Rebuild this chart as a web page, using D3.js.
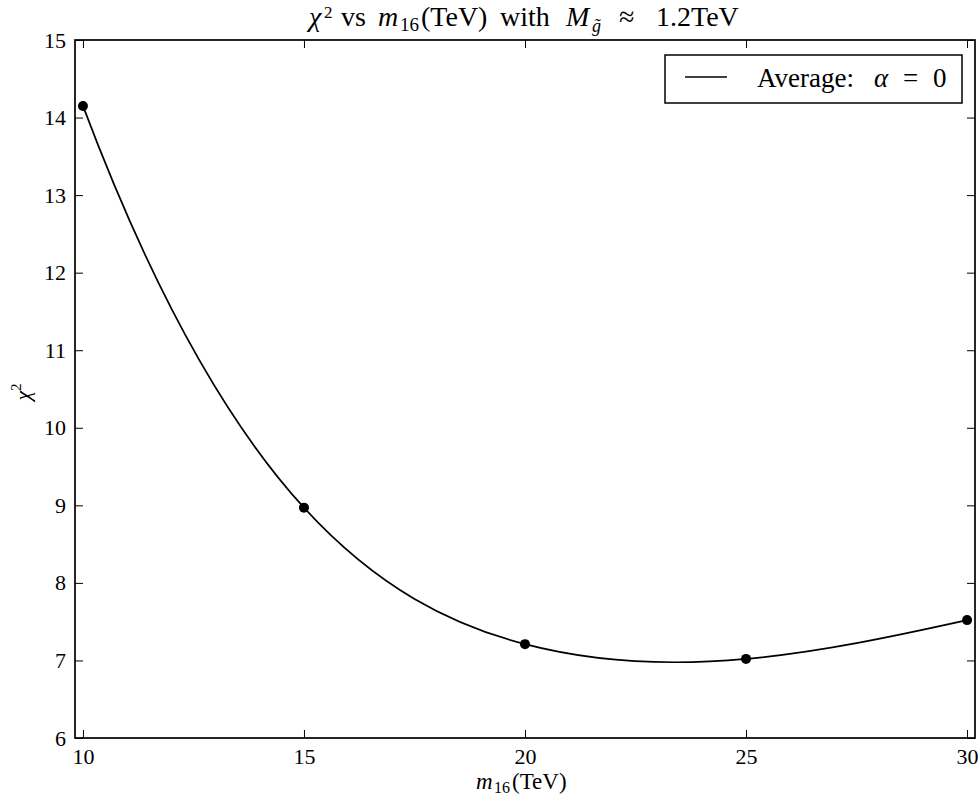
<!DOCTYPE html>
<html><head><meta charset="utf-8">
<script src="https://cdn.jsdelivr.net/npm/d3@7"></script>
<style>body{margin:0;background:#fff}svg{display:block}text{font-family:"Liberation Serif","DejaVu Serif",serif;fill:#000}</style>
</head><body>
<svg id="c" width="979" height="801"></svg>
<script>
const m16 = [10, 15, 20, 25, 30];
const chi2 = [14.15, 8.97, 7.21, 7.02, 7.52];
const xTicks = [10, 15, 20, 25, 30];
const yTicks = [6, 7, 8, 9, 10, 11, 12, 13, 14, 15];
const legendLabel = "Average:";

// not-a-knot cubic spline as a d3 curve factory (like curveNatural, different end conditions)
function NotAKnot(context){ this._context = context; }
NotAKnot.prototype = {
  areaStart(){ this._line = 0; }, areaEnd(){ this._line = NaN; },
  lineStart(){ this._x = []; this._y = []; },
  point(x, y){ this._x.push(+x); this._y.push(+y); },
  lineEnd(){
    const X = this._x, Y = this._y, n = X.length, c = this._context;
    if (n < 4) { c.moveTo(X[0], Y[0]); for (let i=1;i<n;i++) c.lineTo(X[i],Y[i]); return; }
    const h = []; for (let i=0;i<n-1;i++) h.push(X[i+1]-X[i]);
    const A = Array.from({length:n},()=>new Array(n).fill(0)), b = new Array(n).fill(0);
    A[0][0] = h[1]; A[0][1] = -(h[0]+h[1]); A[0][2] = h[0];
    for (let i=1;i<n-1;i++){
      A[i][i-1] = h[i-1]; A[i][i] = 2*(h[i-1]+h[i]); A[i][i+1] = h[i];
      b[i] = 6*((Y[i+1]-Y[i])/h[i] - (Y[i]-Y[i-1])/h[i-1]);
    }
    A[n-1][n-3] = h[n-2]; A[n-1][n-2] = -(h[n-3]+h[n-2]); A[n-1][n-1] = h[n-3];
    for (let k=0;k<n;k++){
      let p=k; for (let i=k+1;i<n;i++) if (Math.abs(A[i][k])>Math.abs(A[p][k])) p=i;
      [A[k],A[p]]=[A[p],A[k]]; [b[k],b[p]]=[b[p],b[k]];
      for (let i=k+1;i<n;i++){ const f=A[i][k]/A[k][k]; for (let j=k;j<n;j++) A[i][j]-=f*A[k][j]; b[i]-=f*b[k]; }
    }
    const M = new Array(n).fill(0);
    for (let i=n-1;i>=0;i--){ let s=b[i]; for (let j=i+1;j<n;j++) s-=A[i][j]*M[j]; M[i]=s/A[i][i]; }
    c.moveTo(X[0], Y[0]);
    for (let i=0;i<n-1;i++){
      const hi=h[i], d=(Y[i+1]-Y[i])/hi;
      const s0 = d - hi*(2*M[i]+M[i+1])/6, s1 = d + hi*(M[i]+2*M[i+1])/6;
      c.bezierCurveTo(X[i]+hi/3, Y[i]+s0*hi/3, X[i+1]-hi/3, Y[i+1]-s1*hi/3, X[i+1], Y[i+1]);
    }
  }
};
const curveNotAKnot = ctx => new NotAKnot(ctx);

const svg = d3.select("#c");
const L = 75, R = 975, T = 40, B = 738;
const x = d3.scaleLinear().domain([9.82, 30.18]).range([L, R]);
const y = d3.scaleLinear().domain([6, 15]).range([B, T]);

const g = svg.append("g");
g.append("g").attr("transform",`translate(0,${B})`).call(d3.axisBottom(x).tickValues(xTicks).tickSizeInner(-8).tickSizeOuter(0).tickPadding(10).tickFormat(d3.format("d")));
g.append("g").attr("transform",`translate(0,${T})`).call(d3.axisTop(x).tickValues(xTicks).tickSizeInner(-8).tickSizeOuter(0).tickFormat(""));
g.append("g").attr("transform",`translate(${L},0)`).call(d3.axisLeft(y).tickValues(yTicks).tickSizeInner(-8).tickSizeOuter(0).tickPadding(9).tickFormat(d3.format("d")));
g.append("g").attr("transform",`translate(${R},0)`).call(d3.axisRight(y).tickValues(yTicks).tickSizeInner(-8).tickSizeOuter(0).tickFormat(""));
g.selectAll(".domain").remove();
g.selectAll(".tick line").attr("stroke","#000").attr("stroke-width",1);
g.selectAll(".tick text").attr("font-size",22).attr("font-family","Liberation Serif, serif").attr("fill","#000");

const line = d3.line().x((d,i)=>x(m16[i])).y(d=>y(d)).curve(curveNotAKnot);
svg.append("path").datum(chi2).attr("d",line).attr("fill","none").attr("stroke","#000").attr("stroke-width",1.7);
svg.selectAll("circle.pt").data(chi2).enter().append("circle").attr("class","pt")
  .attr("cx",(d,i)=>x(m16[i])).attr("cy",d=>y(d)).attr("r",5).attr("fill","#000");

svg.append("rect").attr("x",L).attr("y",T).attr("width",R-L).attr("height",B-T).attr("fill","none").attr("stroke","#000").attr("stroke-width",1.7);

// legend
svg.append("rect").attr("x",665).attr("y",55).attr("width",297).attr("height",48).attr("fill","#fff").attr("stroke","#000").attr("stroke-width",1.5);
svg.append("line").attr("x1",685).attr("x2",727).attr("y1",77).attr("y2",77).attr("stroke","#000").attr("stroke-width",1.7);
const lt = svg.append("text").attr("y",87).attr("font-size",27);
lt.append("tspan").attr("x",757).text(legendLabel);
lt.append("tspan").attr("x",874).attr("font-style","italic").text("α");
lt.append("tspan").attr("x",903).text("=");
lt.append("tspan").attr("x",933).text("0");

// title
const tt = svg.append("text").attr("y",26).attr("font-size",28);
tt.append("tspan").attr("x",309).attr("font-style","italic").text("χ");
tt.append("tspan").attr("x",324).attr("font-size",17).attr("dy",-8).text("2");
tt.append("tspan").attr("x",341).attr("dy",8).text("vs");
tt.append("tspan").attr("x",378).attr("font-style","italic").text("m");
tt.append("tspan").attr("x",400).attr("font-size",19).attr("dy",5).text("16");
tt.append("tspan").attr("x",421).attr("dy",-5).text("(TeV)");
tt.append("tspan").attr("x",500).text("with");
tt.append("tspan").attr("x",566).attr("font-style","italic").text("M");
tt.append("tspan").attr("x",592).attr("font-size",18).attr("dy",6).attr("font-style","italic").text("g̃");
tt.append("tspan").attr("x",619).attr("dy",-6).text("≈");
tt.append("tspan").attr("x",656).text("1.2TeV");

// x label
const xl = svg.append("text").attr("y",789).attr("font-size",23);
xl.append("tspan").attr("x",476).attr("font-style","italic").text("m");
xl.append("tspan").attr("x",494).attr("font-size",16).attr("dy",4).text("16");
xl.append("tspan").attr("x",512).attr("dy",-4).text("(TeV)");

// y label
const yl = svg.append("text").attr("transform","translate(30,392) rotate(-90)").attr("text-anchor","middle").attr("font-size",22);
yl.append("tspan").attr("font-style","italic").text("χ");
yl.append("tspan").attr("font-size",15).attr("dy",-9).text("2");
</script>
</body></html>
